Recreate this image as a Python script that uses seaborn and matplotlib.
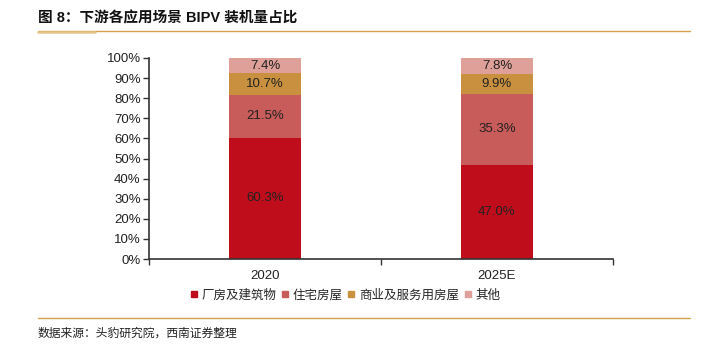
import matplotlib
matplotlib.use("Agg")
import matplotlib.pyplot as plt
import seaborn as sns
import pandas as pd
import numpy as np
from matplotlib.lines import Line2D
from matplotlib.ticker import PercentFormatter, FixedLocator

sns.set_theme(style="white")
plt.rcParams['font.family'] = ['Liberation Sans', 'Noto Sans CJK SC', 'DejaVu Sans']

categories = ["2020", "2025E"]
series_names = ["厂房及建筑物", "住宅房屋", "商业及服务用房屋", "其他"]
factory = [60.3, 47.0]
residential = [21.5, 35.3]
commercial = [10.7, 9.9]
other = [7.4, 7.8]
colors = ["#C00D1B", "#C85C5A", "#C9913F", "#DEA098"]
title = "图 8：下游各应用场景 BIPV 装机量占比"
source = "数据来源：头豹研究院，西南证券整理"

values = [factory, residential, commercial, other]
rows = []
for name, vals in zip(series_names, values):
    for c, v in zip(categories, vals):
        rows.append({"cat": c, "series": name, "value": v})
df = pd.DataFrame(rows)

fig = plt.figure(figsize=(7.11, 3.48), dpi=100)
ax = fig.add_axes([149/711, 1-259/348, (613-149)/711, (259-58)/348])

bottoms = np.zeros(len(categories))
for name, col in zip(series_names, colors):
    sub = df[df.series == name].set_index("cat").loc[categories].reset_index()
    sns.barplot(data=sub, x="cat", y="value", color=col, ax=ax, width=0.31,
                bottom=bottoms, saturation=1, edgecolor="none", linewidth=0)
    for i, v in enumerate(sub["value"]):
        ax.text(i, bottoms[i] + v/2, f"{v:.1f}%", ha="center", va="center",
                fontsize=9.5, color="#222222")
    bottoms = bottoms + sub["value"].values

ax.set_xlim(-0.5, 1.5)
ax.set_ylim(0, 100)
ax.set_yticks(np.arange(0, 101, 10))
ax.yaxis.set_major_formatter(PercentFormatter(decimals=0))
ax.set_xlabel("")
ax.set_ylabel("")
for s in ["top", "right"]:
    ax.spines[s].set_visible(False)
for s in ["left", "bottom"]:
    ax.spines[s].set_color("#333333")
    ax.spines[s].set_linewidth(1.2)
ax.tick_params(axis="y", which="major", left=True, length=4, width=1, color="#333333",
               labelsize=9.5, labelcolor="#222222", pad=2)
ax.tick_params(axis="x", which="major", bottom=False, labelsize=9.5, labelcolor="#222222", pad=2)
ax.xaxis.set_minor_locator(FixedLocator([-0.5, 0.5, 1.5]))
ax.tick_params(axis="x", which="minor", bottom=True, length=4, width=1, color="#333333")

handles = [Line2D([0], [0], marker="s", linestyle="none", markersize=5,
                  markerfacecolor=c, markeredgecolor=c) for c in colors]
leg = fig.legend(handles, series_names, loc="center", bbox_to_anchor=(345/711, 1-295/348),
                 ncol=4, frameon=False, handlelength=0.6, handletextpad=0.3,
                 columnspacing=0.4, prop={"family": ["Noto Sans CJK SC"], "size": 9})

fig.text(38/711, 1-18/348, title, ha="left", va="center", fontsize=10.5, fontweight="bold",
         family=["Liberation Sans", "Noto Sans CJK SC"], color="#111111")
fig.add_artist(Line2D([38/711, 690/711], [1-31/348]*2, color="#D4A04A", lw=1.0))
fig.add_artist(Line2D([38/711, 95/711], [1-31.5/348]*2, color="#E7C48C", lw=1.8))
fig.add_artist(Line2D([38/711, 690/711], [1-318/348]*2, color="#D4A04A", lw=1.0))
fig.text(38/711, 1-333/348, source, ha="left", va="center", fontsize=8.5, style="italic",
         family=["Noto Sans CJK SC"], color="#222222")

fig.savefig("out.png", dpi=100)
